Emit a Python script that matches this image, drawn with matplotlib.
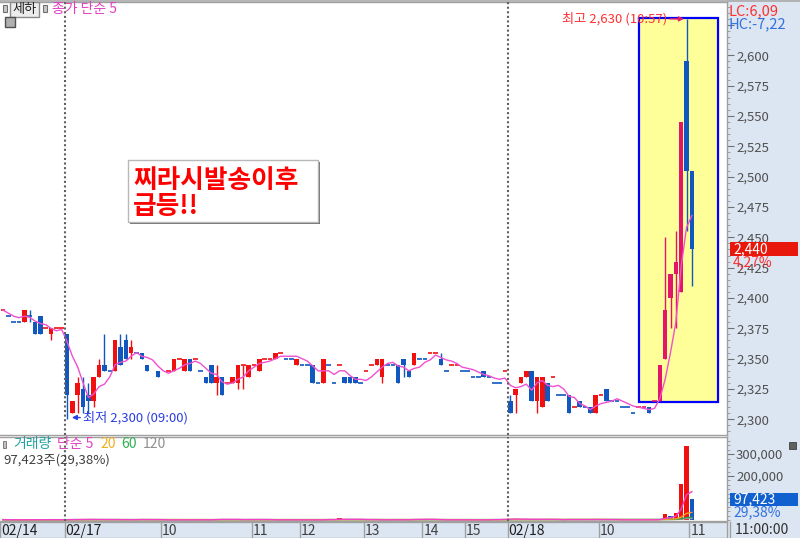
import numpy as np
import pandas as pd
import matplotlib
matplotlib.use("Agg")
import matplotlib.pyplot as plt
from matplotlib.patches import Rectangle
from matplotlib.ticker import MultipleLocator, FixedLocator, FuncFormatter

plt.rcParams['font.family'] = ['Noto Sans CJK KR', 'DejaVu Sans']

# ---------------- data (O, H, L, C) ----------------
feb14 = [
    (2390, 2390, 2390, 2390), (2385, 2385, 2385, 2385), (2380, 2380, 2380, 2380),
    (2380, 2380, 2380, 2380), (2380, 2390, 2380, 2390), (2385, 2390, 2380, 2385),
    (2380, 2380, 2370, 2370), (2385, 2385, 2370, 2370), (2375, 2375, 2375, 2375),
    (2370, 2375, 2365, 2375), (2375, 2375, 2375, 2375), (2375, 2375, 2375, 2375),
]
feb17 = [
    (2370, 2370, 2300, 2320), (2305, 2315, 2305, 2315), (2320, 2335, 2305, 2330),
    (2325, 2335, 2305, 2310), (2320, 2330, 2305, 2315), (2315, 2335, 2310, 2335),
    (2335, 2350, 2335, 2345), (2345, 2370, 2340, 2340), (2340, 2340, 2340, 2340),
    (2340, 2365, 2340, 2365), (2360, 2370, 2345, 2345), (2365, 2370, 2350, 2350),
    (2355, 2365, 2350, 2360), (2355, 2355, 2355, 2355), (2355, 2355, 2350, 2350),
    (2345, 2345, 2340, 2340), None, (2340, 2340, 2335, 2335), None,
    (2340, 2340, 2340, 2340), (2340, 2350, 2340, 2350), (2350, 2350, 2350, 2350),
    (2340, 2350, 2340, 2350), (2350, 2350, 2340, 2340), (2350, 2350, 2350, 2350),
    (2340, 2340, 2340, 2340), (2335, 2335, 2330, 2330), (2345, 2345, 2330, 2330),
    (2330, 2345, 2320, 2335), (2335, 2335, 2320, 2320), (2330, 2330, 2330, 2330),
    (2330, 2335, 2330, 2335), (2330, 2345, 2325, 2345), (2345, 2345, 2325, 2345),
    (2335, 2345, 2335, 2345), (2345, 2345, 2345, 2345), (2340, 2350, 2340, 2350),
    (2350, 2350, 2350, 2350), (2350, 2350, 2350, 2350), (2350, 2355, 2350, 2355),
    (2355, 2355, 2355, 2355), (2350, 2350, 2350, 2350), (2350, 2350, 2350, 2350),
    (2345, 2350, 2345, 2350), (2345, 2345, 2345, 2345), (2345, 2345, 2345, 2345),
    (2345, 2345, 2330, 2330), (2330, 2330, 2330, 2330), (2330, 2350, 2330, 2350),
    (2345, 2345, 2345, 2345), (2330, 2330, 2330, 2330), (2345, 2345, 2345, 2345),
    (2335, 2335, 2330, 2330), (2335, 2335, 2330, 2330), (2335, 2335, 2330, 2330),
    (2330, 2330, 2330, 2330), (2340, 2340, 2340, 2340), (2345, 2345, 2345, 2345),
    (2345, 2350, 2345, 2350), (2335, 2350, 2330, 2350), (2345, 2345, 2345, 2345),
    (2345, 2345, 2345, 2345), (2345, 2345, 2330, 2330), (2350, 2350, 2335, 2345),
    (2340, 2340, 2335, 2335), (2345, 2355, 2345, 2355), (2350, 2350, 2350, 2350),
    (2350, 2350, 2350, 2350), (2355, 2355, 2355, 2355), (2355, 2355, 2355, 2355),
    (2350, 2355, 2345, 2345), (2340, 2340, 2340, 2340), (2345, 2345, 2345, 2345),
    (2345, 2345, 2345, 2345), (2340, 2340, 2340, 2340), (2340, 2340, 2340, 2340),
    (2335, 2335, 2335, 2335), (2335, 2335, 2335, 2335), (2340, 2340, 2335, 2335),
    (2335, 2335, 2335, 2335), (2330, 2330, 2330, 2330), (2330, 2330, 2330, 2330),
    (2340, 2340, 2340, 2340),
]
feb18 = [
    (2315, 2320, 2305, 2305), (2320, 2325, 2305, 2325), (2330, 2335, 2330, 2335),
    (2335, 2340, 2335, 2340), (2340, 2340, 2315, 2315), (2315, 2335, 2305, 2335),
    (2310, 2335, 2310, 2335), (2330, 2330, 2315, 2315), (2335, 2335, 2335, 2335),
    (2320, 2320, 2320, 2320), (2320, 2320, 2320, 2320), (2320, 2320, 2305, 2305),
    (2310, 2310, 2310, 2310), (2315, 2315, 2310, 2310), (2310, 2310, 2310, 2310),
    (2310, 2310, 2305, 2305), (2305, 2320, 2305, 2320), (2320, 2320, 2320, 2320),
    (2325, 2325, 2315, 2315), (2315, 2315, 2315, 2315), (2315, 2315, 2315, 2315),
    (2310, 2310, 2310, 2310), (2310, 2310, 2310, 2310), (2305, 2305, 2305, 2305),
    (2310, 2310, 2310, 2310), (2310, 2310, 2310, 2310), (2310, 2310, 2305, 2305),
    (2315, 2315, 2315, 2315), (2315, 2345, 2315, 2345), (2350, 2450, 2350, 2390),
    (2400, 2420, 2375, 2420), (2420, 2455, 2375, 2430), (2405, 2545, 2405, 2545),
    (2595, 2630, 2455, 2505), (2505, 2505, 2410, 2440),
]
vol14 = [1500, 800, 600, 500, 2500, 900, 1800, 2200, 700, 1600, 500, 400]
vol17 = [4000, 2500, 3000, 2000, 1500, 3000, 2000, 1500, 500, 2500, 1500, 1200, 1000, 600,
         6000, 1000, 0, 800, 0, 500, 1200, 400, 1000, 1200, 600, 400, 1000, 1500, 6000,
         5000, 400, 800, 1500, 1500, 6000, 1000, 1200, 500, 1000, 600, 500, 1000, 600,
         500, 800, 500, 500, 1500, 500, 6000, 500, 7000, 800, 1500, 6000, 1200, 1000,
         500, 700, 900, 1000, 2000, 500, 600, 1500, 6000, 5000, 1500, 1000, 500, 500,
         800, 1200, 500, 700, 500, 600, 500, 1000, 500, 6000, 500, 6000]
vol18 = [6000, 5000, 1200, 1000, 2500, 6000, 3000, 1500, 800, 600, 500, 6000, 700,
         1200, 500, 1500, 6000, 500, 1500, 500, 400, 500, 400, 800, 500, 500, 1500,
         600, 5000, 29000, 18000, 32000, 163000, 335000, 97423]

xtick_pos = [0, 12, 30, 47, 56, 68, 79, 87, 95, 112, 129]
xtick_lab = ['02/14', '02/17', '10', '11', '12', '13', '14', '15', '02/18', '10', '11']
day_start = [12, 95]

# ---------------- prepare ----------------
rows = feb14 + feb17 + feb18
ohlc = np.array([r if r is not None else (np.nan,) * 4 for r in rows], dtype=float)
O, Hh, L, C = ohlc.T
n = len(C)
idx = np.arange(n)
vol = np.array(vol14 + vol17 + vol18, dtype=float)

UP, DN, UPHI = '#f01010', '#1058c0', '#e2156a'
box_x0, box_x1, box_y0, box_y1 = 119.1, 133.9, 2314, 2630.5

cols = []
prev_c, prev_col = np.nan, UP
for i in range(n):
    if np.isnan(C[i]):
        cols.append(prev_col)
        continue
    if C[i] > O[i]:
        col = UP
    elif C[i] < O[i]:
        col = DN
    else:
        if np.isnan(prev_c) or C[i] > prev_c:
            col = UP
        elif C[i] < prev_c:
            col = DN
        else:
            col = prev_col
    if col == UP and i >= box_x0:
        col = UPHI
    cols.append(col)
    prev_c, prev_col = C[i], (UP if col == UPHI else col)
cols = np.array(cols)

valid = ~np.isnan(C)
body = valid & (O != C)
doji = valid & (O == C)

ma5 = pd.Series(C).ffill().rolling(5, min_periods=1).mean()

vcols = [UP] + [UP if vol[i] >= vol[i - 1] else DN for i in range(1, n)]
vs = pd.Series(vol)
vma = {5: vs.rolling(5, min_periods=1).mean(), 20: vs.rolling(20, min_periods=1).mean(),
       60: vs.rolling(60, min_periods=1).mean(), 120: vs.rolling(120, min_periods=1).mean()}

# ---------------- figure ----------------
W, H = 800, 538
fig = plt.figure(figsize=(W / 100, H / 100), dpi=100)
fig.patch.set_facecolor('white')


def fr(px0, py0, px1, py1):
    return [px0 / W, 1 - py1 / H, (px1 - px0) / W, (py1 - py0) / H]


def ftext(px, py, s, **kw):
    return fig.text(px / W, 1 - py / H, s, **kw)


def frect(px0, py0, px1, py1, **kw):
    r = Rectangle((px0 / W, 1 - py1 / H), (px1 - px0) / W, (py1 - py0) / H,
                  transform=fig.transFigure, **kw)
    fig.patches.append(r)
    return r


STRIP = '#dce6f2'
frect(727, 0, 800, 538, facecolor=STRIP, edgecolor='none', zorder=-5)
frect(0, 522, 800, 538, facecolor=STRIP, edgecolor='none', zorder=-5)

pitch, x0px = 5.34, 3.0
xlim = ((0 - x0px) / pitch, (727 - x0px) / pitch)

ax1 = fig.add_axes(fr(0, 2, 727, 435))
ax2 = fig.add_axes(fr(0, 437, 727, 521), sharex=ax1)
axx = fig.add_axes(fr(0, 522, 727, 538), sharex=ax1)
for a in (ax1, ax2, axx):
    a.set_facecolor('none')
    for s in a.spines.values():
        s.set_color('#a0a0a0')
        s.set_linewidth(1)
ax1.set_xlim(*xlim)

# price panel
ax1.add_patch(Rectangle((box_x0, box_y0), box_x1 - box_x0, box_y1 - box_y0,
                        facecolor='#ffff99', edgecolor='#0000ff', lw=1.6, zorder=0.5))
ax1.vlines(idx[valid], L[valid], Hh[valid], colors=cols[valid], lw=1, zorder=2)
ax1.bar(idx[body], (C - O)[body], bottom=O[body], width=0.86, color=cols[body],
        linewidth=0, zorder=2.2)
ax1.hlines(C[doji], idx[doji] - 0.43, idx[doji] + 0.43, colors=cols[doji], lw=1.2, zorder=2.2)
ax1.plot(idx, ma5, color='#f050d0', lw=1, zorder=3)
ax1.set_ylim(2287.1, 2643.9)
ax1.yaxis.tick_right()
ax1.yaxis.set_major_locator(FixedLocator(np.arange(2300, 2626, 25)))
ax1.yaxis.set_minor_locator(MultipleLocator(5))
ax1.yaxis.set_major_formatter(FuncFormatter(lambda v, p: '' if v > 2610 else f'{v:,.0f}'))
ax1.tick_params(axis='y', which='major', direction='out', length=5, color='#707070',
                labelcolor='#505050', labelsize=9.5, pad=1.5)
ax1.tick_params(axis='y', which='minor', direction='out', length=2, color='#909090')
ax1.tick_params(axis='x', bottom=False, labelbottom=False)
ax1.spines['left'].set_visible(False)

for d in day_start:
    for a in (ax1, ax2):
        a.axvline(d - 0.45, color='#606060', lw=1.5, ls=(0, (1, 1.2)), zorder=4)

hi_i = int(np.nanargmax(Hh))
lo_i = int(np.nanargmin(L))
ax1.annotate(f'최고 {Hh[hi_i]:,.0f} (10:57)', xy=(hi_i - 0.5, Hh[hi_i]), xytext=(-12, 0),
             textcoords='offset points', ha='right', va='center', color='#ff3030', fontsize=9.5,
             arrowprops=dict(arrowstyle='-|>', color='#e0206a', lw=1, shrinkA=0, shrinkB=0,
                             mutation_scale=7), zorder=6)
ax1.annotate(f'최저 {L[lo_i]:,.0f} (09:00)', xy=(lo_i + 0.9, L[lo_i] + 1.5), xytext=(8, 0),
             textcoords='offset points', ha='left', va='center', color='#2a3ee0', fontsize=9.5,
             arrowprops=dict(arrowstyle='-|>', color='#2a3ee0', lw=1, shrinkA=0, shrinkB=0,
                             mutation_scale=7), zorder=6)

# volume panel
ax2.bar(idx, vol, width=0.86, color=vcols, linewidth=0, zorder=2)
ax2.plot(idx, vma[120], color='#a0a0a0', lw=1, zorder=3)
ax2.plot(idx, vma[60], color='#30a050', lw=1, zorder=3)
ax2.plot(idx, vma[20], color='#f0a020', lw=1, zorder=3)
ax2.plot(idx, vma[5], color='#f040c8', lw=1, zorder=3)
ax2.set_ylim(-4600, 378000)
ax2.yaxis.tick_right()
ax2.yaxis.set_major_locator(FixedLocator([200000, 300000]))
ax2.yaxis.set_minor_locator(MultipleLocator(20000))
ax2.yaxis.set_major_formatter(FuncFormatter(lambda v, p: f'{v:,.0f}'))
ax2.tick_params(axis='y', which='major', direction='out', length=5, color='#707070',
                labelcolor='#505050', labelsize=9.5, pad=1.5)
ax2.tick_params(axis='y', which='minor', direction='out', length=2, color='#909090')
ax2.tick_params(axis='x', bottom=False, labelbottom=False)
ax2.spines['left'].set_visible(False)

# x strip
axx.set_ylim(0, 1)
axx.tick_params(left=False, bottom=False, labelleft=False, labelbottom=False)
for p, lab in zip(xtick_pos, xtick_lab):
    if p > 0:
        axx.axvline(p - 0.45, color='#a0a0a0', lw=1)
    axx.text(p - 0.3, 0.45, lab, ha='left', va='center', fontsize=10,
             color='#202020' if '/' in lab else '#404040')
ftext(735, 530, '11:00:00', ha='left', va='center', fontsize=10, color='#303030')
fig.add_artist(plt.Line2D([730 / W, 730 / W], [0, 16 / H], color='#a0a0a0', lw=1))

# borders
fig.add_artist(plt.Line2D([0, 1], [1 - 1 / H, 1 - 1 / H], color='#a8a8a8', lw=1.2))

# header items
frect(3, 5, 7, 12, facecolor='#c8c8c8', edgecolor='#707070', lw=0.8)
frect(10, 2, 39, 17, facecolor='#ececec', edgecolor='#8a8a8a', lw=1)
ftext(24.5, 9.5, '세하', ha='center', va='center', fontsize=9.5, color='#202020')
frect(43, 5, 47, 12, facecolor='#c8c8c8', edgecolor='#707070', lw=0.8)
ftext(52, 9.5, '종가 단순 5', ha='left', va='center', fontsize=10, color='#e040c0')
frect(5, 17, 15, 27, facecolor='#b0b0b0', edgecolor='#505050', lw=1)

frect(3, 441, 6, 448, facecolor='#c0c0c0', edgecolor='#707070', lw=0.6)
ftext(13, 444, '거래량', ha='left', va='center', fontsize=10, color='#20a0a0')
ftext(57, 444, '단순 5', ha='left', va='center', fontsize=10, color='#e040c0')
ftext(100, 444, '20', ha='left', va='center', fontsize=10, color='#f0b020')
ftext(121, 444, '60', ha='left', va='center', fontsize=10, color='#30b050')
ftext(143, 444, '120', ha='left', va='center', fontsize=10, color='#909090')
ftext(3, 460, f'{vol[-1]:,.0f}주(29,38%)', ha='left', va='center', fontsize=9.5, color='#404040')

# right strip labels
ftext(729, 11, 'LC:6,09', ha='left', va='center', fontsize=10.5, color='#ff3030')
ftext(729, 24, 'HC:-7,22', ha='left', va='center', fontsize=10.5, color='#3070e0')
frect(730, 242, 798, 256, facecolor='#e8180c', edgecolor='none', zorder=5)
ftext(733, 249, f'{C[-1]:,.0f}', ha='left', va='center', fontsize=10, color='white', zorder=6)
ftext(733, 262, '4,27%', ha='left', va='center', fontsize=10, color='#ff3030', zorder=6)
frect(730, 493, 798, 506, facecolor='#1060d0', edgecolor='none', zorder=5)
ftext(733, 499.5, f'{vol[-1]:,.0f}', ha='left', va='center', fontsize=10, color='white', zorder=6)
ftext(733, 512, '29,38%', ha='left', va='center', fontsize=10, color='#3070e0', zorder=6)
frect(789, 442, 796, 449, facecolor='#606060', edgecolor='#404040', lw=0.6, zorder=6)

# callout box
frect(130, 162, 320, 224, facecolor='#707070', edgecolor='none', zorder=6)
frect(128, 160, 318, 222, facecolor='white', edgecolor='#b8b8b8', lw=1, zorder=7)
ftext(133, 180, '찌라시발송이후', ha='left', va='center', fontsize=18.5, fontweight='bold',
      color='#ff0000', zorder=8)
ftext(133, 207, '급등!!', ha='left', va='center', fontsize=18.5, fontweight='bold',
      color='#ff0000', zorder=8)

fig.savefig('out.png', dpi=100)
